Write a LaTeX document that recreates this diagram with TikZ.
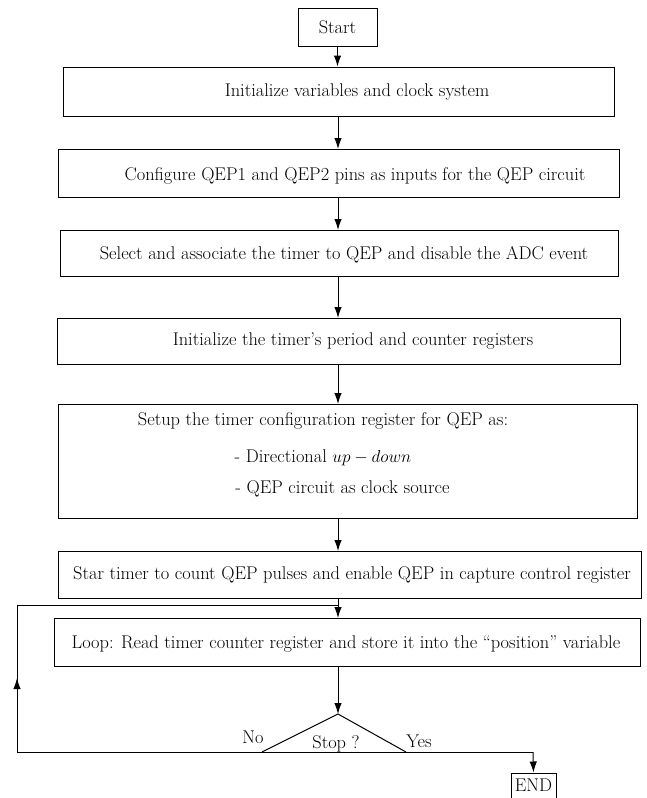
\documentclass[tikz,border=0pt]{standalone}
\usetikzlibrary{arrows.meta}
\begin{document}
\begin{tikzpicture}[x=1pt,y=-1pt,
  box/.style={draw,line width=1pt,inner sep=0pt},
  txt/.style={inner sep=0pt,font=\fontsize{18.4}{21}\selectfont},
  arr/.style={line width=1pt,-{Latex[length=11pt,width=7.5pt]}},
  ln/.style={line width=1pt}]
\useasboundingbox (0,0) rectangle (647,798);
% boxes
\node[box,minimum width=79,minimum height=38] (s) at (337.5,27) {};
\node[txt] at (337.5,27) {Start};
\node[box,minimum width=551,minimum height=49] (b1) at (338.5,91.5) {};
\node[txt] at (357,92) {Initialize variables and clock system};
\node[box,minimum width=561,minimum height=48] (b2) at (338.5,173) {};
\node[txt] at (355,176) {Configure QEP1 and QEP2 pins as inputs for the QEP circuit};
\node[box,minimum width=558,minimum height=46] (b3) at (339,253) {};
\node[txt] at (344,255) {Select and associate the timer to QEP and disable the ADC event};
\node[box,minimum width=563,minimum height=46] (b4) at (338.5,341) {};
\node[txt] at (353,341) {Initialize the timer's period and counter registers};
\node[box,minimum width=579,minimum height=114] (b5) at (347.5,461) {};
\node[txt] at (323,421) {Setup the timer configuration register for QEP as:};
\node[txt] at (323,458) {- Directional $up - down$};
\node[txt] at (342.5,489) {- QEP circuit as clock source};
\node[box,minimum width=583,minimum height=47] (b6) at (349.5,574.5) {};
\node[txt] at (352,575) {Star timer to count QEP pulses and enable QEP in capture control register};
\node[box,minimum width=586,minimum height=48] (b7) at (347,642) {};
\node[txt] at (346,644) {Loop: Read timer counter register and store it into the ``position'' variable};
\node[box,minimum width=45,minimum height=30] (e) at (533.5,788) {};
\node[txt] at (533.5,785) {END};
% decision triangle
\coordinate (ta) at (338,714);
\coordinate (tl) at (262,752);
\coordinate (tr) at (406,752);
\draw[ln] (tl) -- (ta) -- (tr);
\node[txt] at (336,744) {Stop ?};
\node[txt] at (253,737) {No};
\node[txt] at (419,741) {Yes};
% connectors
\draw[arr] (s.south) -- (s.south |- b1.north);
\draw[arr] (338,116) -- (338,149);
\draw[arr] (338,197) -- (338,230);
\draw[arr] (338,276) -- (338,318);
\draw[arr] (338,364) -- (338,404);
\draw[arr] (338,518) -- (338,551);
\draw[arr] (338,598) -- (338,618);
\draw[arr] (338,666) -- (ta);
\coordinate (lb) at (17,752);
\coordinate (lt) at (17,605);
\coordinate (lj) at (338,605);
\coordinate (yr) at (533,752);
\draw[ln] (lb) -- (yr);
\draw[arr] (lb) -- (17,678);
\draw[ln] (17,685) -- (lt) -- (lj);
\draw[arr] (yr) -- (e.north);
\end{tikzpicture}
\end{document}
